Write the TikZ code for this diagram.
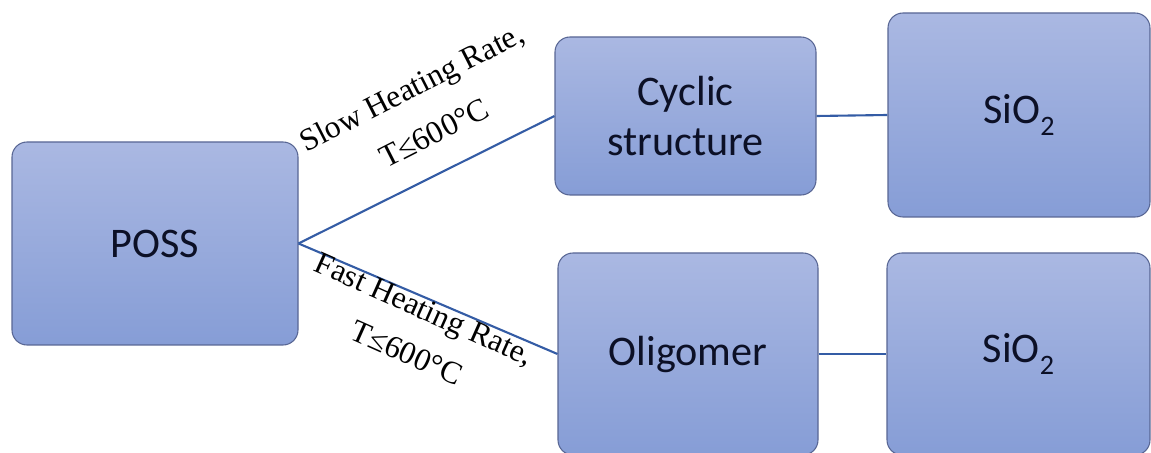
\documentclass[tikz,border=0pt]{standalone}
\usepackage{fontspec}
\setmainfont{Liberation Serif}
\newfontfamily\boxfont{Carlito}
\usetikzlibrary{shapes.geometric, arrows, backgrounds, positioning, calc, shadows}
\definecolor{stagetop}{RGB}{170,184,226}
\definecolor{stagebot}{RGB}{134,157,214}
\definecolor{stageedge}{RGB}{88,102,148}
\definecolor{linkblue}{RGB}{52,92,165}
\definecolor{stagetext}{RGB}{12,16,38}
\tikzstyle{stage} = [rectangle, rounded corners=0.3cm, draw=stageedge, line width=0.6pt, top color=stagetop, bottom color=stagebot, text=stagetext, align=center, inner sep=0pt, font=\boxfont\fontsize{24}{29}\selectfont]
\tikzstyle{link} = [draw=linkblue, line width=1.2pt]
\tikzstyle{cond} = [inner sep=0pt, font=\fontsize{18}{21}\selectfont]
\newcommand{\subtwo}{\raisebox{-0.3em}{\fontsize{16}{16}\selectfont 2}}

\begin{document}
\begin{tikzpicture}[scale = 1]
\useasboundingbox (0, 0) rectangle (23.02, 9.06);

  \coordinate (first) at (3.10, 4.19);
  \node[stage, minimum width=5.72cm, minimum height=4.06cm] (poss) at (first) {POSS};

  % upper branch
  \node[stage, minimum width=5.22cm, minimum height=3.16cm] (cyclic) at ($(first) + (10.61, 2.55)$) {Cyclic\\structure};
  \node[stage, minimum width=5.24cm, minimum height=4.08cm] (sio2a) at ($(first) + (17.28, 2.57)$) {SiO\subtwo};

  % lower branch
  \node[stage, minimum width=5.2cm, minimum height=4.04cm] (oligomer) at ($(first) + (10.66, -2.21)$) {Oligomer};
  \node[stage, minimum width=5.26cm, minimum height=4.04cm] (sio2b) at ($(first) + (17.27, -2.21)$) {SiO\subtwo};

  \draw[link] (poss.east) -- (cyclic.west);
  \draw[link] (poss.east) -- (oligomer.west);
  \draw[link] (cyclic.east) -- (sio2a.west);
  \draw[link] (oligomer.east) -- (sio2b.west);

  \node[cond, rotate=27] (slowrate) at (8.26, 7.26) {Slow Heating Rate,};
  \node[cond, rotate=27] (slowtemp) at (8.68, 6.40) {T≤600°C};
  \node[cond, rotate=-24] (fastrate) at (8.46, 2.82) {Fast Heating Rate,};
  \node[cond, rotate=-24] (fasttemp) at (8.14, 2.00) {T≤600°C};

\end{tikzpicture}
\end{document}
